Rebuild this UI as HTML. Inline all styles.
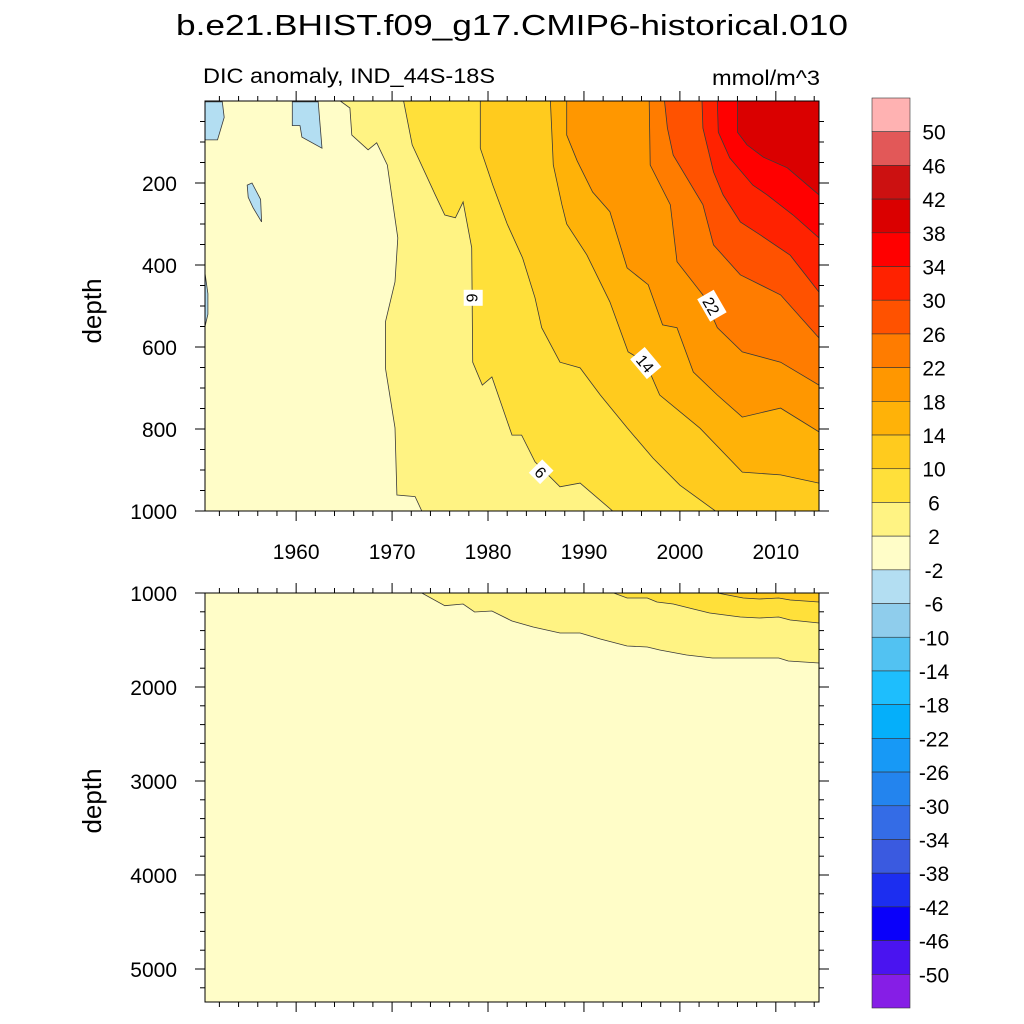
<!DOCTYPE html>
<html><head><meta charset="utf-8"><title>DIC anomaly</title>
<style>
html,body{margin:0;padding:0;background:#fff;}
svg{display:block;font-family:"Liberation Sans",Arial,sans-serif;}
</style></head>
<body>
<svg id="chart" width="1024" height="1024" viewBox="0 0 1024 1024" xmlns="http://www.w3.org/2000/svg">
<text x="512" y="35" font-size="29" text-anchor="middle" textLength="672" lengthAdjust="spacingAndGlyphs">b.e21.BHIST.f09_g17.CMIP6-historical.010</text>
<text x="203" y="83" font-size="21" textLength="292" lengthAdjust="spacingAndGlyphs">DIC anomaly, IND_44S-18S</text>
<text x="712" y="85" font-size="21" textLength="108" lengthAdjust="spacingAndGlyphs">mmol/m^3</text>
<text transform="translate(101,311) rotate(-90)" font-size="26" text-anchor="middle">depth</text>
<text transform="translate(101,801) rotate(-90)" font-size="26" text-anchor="middle">depth</text>
<g id="topPanel"></g>
<g id="botPanel"></g>
<g id="colorbar"></g>
</svg>
<script>
// ---- data ----
const levels = [2, 6, 10, 14, 18, 22, 26, 30, 34, 38];
const cbLabels = [50,46,42,38,34,30,26,22,18,14,10,6,2,-2,-6,-10,-14,-18,-22,-26,-30,-34,-38,-42,-46,-50];
const cbColors = ["#FFB2B2","#E25858","#CC1111","#DA0000","#FF0000","#FF2200","#FF5200","#FF7C00","#FF9700","#FFB208","#FFCB1E","#FFE03A","#FFF383","#FFFDC8","#B3DEF2","#8FCDEC","#52C2F2","#1EBEFD","#05AFFA","#1799F6","#2384EE","#346CE6","#3A5AE0","#1C2EF0","#0A00FA","#4A14F0","#861EE6"];
const xTickYears = [1960,1970,1980,1990,2000,2010];
const topDepthTicks = [200,400,600,800,1000];
const botDepthTicks = [1000,2000,3000,4000,5000];
// isolines (year, depth) for the upper 0-1000 m panel
const top2  = [[1964.6,0],[1965.6,17],[1965.8,83],[1967.5,119],[1968.4,102],[1969.5,156],[1970.6,334],[1970.3,441],[1969.3,539],[1969.3,651],[1970.3,797],[1970.5,961],[1972.4,965],[1973.1,1000]];
const top6  = [[1971.2,0],[1972.1,107],[1974.5,229],[1975.5,278],[1976.6,285],[1977.4,246],[1978.3,358],[1978.4,637],[1979.4,693],[1980.4,673],[1982.5,815],[1983.5,815],[1984.9,880],[1987.5,941],[1989.6,932],[1993.0,1000]];
const top10 = [[1979.2,0],[1979.2,115],[1980.5,205],[1982.0,300],[1983.6,383],[1984.9,480],[1985.6,553],[1987.5,637],[1989.6,651],[1991.7,717],[1994.5,797],[1997.2,871],[2000.0,937],[2003.7,1000]];
const top14 = [[1986.5,0],[1986.8,156],[1987.7,253],[1988.2,300],[1990.3,375],[1992.7,490],[1994.6,612],[1996.4,637],[1997.9,717],[2002.1,798],[2006.5,905],[2010.5,912],[2014.5,932]];
const top18 = [[1988.2,0],[1988.2,83],[1989.3,146],[1990.9,222],[1992.7,270],[1994.5,407],[1996.7,448],[1998.2,546],[1999.7,553],[2001.4,661],[2003.9,717],[2006.5,771],[2010.5,749],[2014.5,807]];
const top22 = [[1996.8,0],[1996.9,156],[1999.0,253],[1999.7,392],[2002.4,473],[2003.9,553],[2006.5,612],[2010.5,637],[2014.5,693]];
const top26 = [[1998.4,0],[1998.7,66],[1999.3,132],[2002.4,253],[2003.5,351],[2006.3,424],[2010.5,473],[2014.5,578]];
const top30 = [[2002.3,0],[2002.4,66],[2003.5,173],[2004.5,229],[2006.3,295],[2008.4,327],[2011.5,376],[2014.5,466]];
const top34 = [[2003.9,0],[2004.0,76],[2005.2,139],[2007.6,205],[2009.1,229],[2011.8,278],[2014.5,334]];
const top38 = [[2006.0,0],[2006.0,76],[2007.0,107],[2008.7,137],[2011.2,163],[2014.5,229]];
// small closed regions below -2
const negPatch1 = [[1950.5,2],[1952.3,2],[1952.5,40],[1951.8,95],[1950.5,95]];
const negPatch2 = [[1959.6,2],[1962.3,2],[1962.7,115],[1960.6,88],[1960.4,60],[1959.6,60]];
const negPatch3 = [[1954.9,205],[1955.4,200],[1956.3,240],[1956.4,295],[1955.5,260],[1955.0,235]];
const negPatch4 = [[1950.5,420],[1950.8,470],[1950.8,520],[1950.5,550]];
// isolines for the lower 1000-5350 m panel
const bot2  = [[1973.1,1000],[1975.5,1135],[1977.4,1117],[1978.6,1202],[1980.4,1191],[1982.5,1298],[1984.7,1362],[1987.5,1426],[1989.6,1426],[1991.7,1489],[1994.5,1564],[1996.6,1574],[1997.9,1606],[2000.7,1660],[2003.4,1691],[2007.0,1691],[2010.3,1691],[2011.3,1723],[2014.5,1745]];
const bot6  = [[1993.1,1000],[1994.5,1053],[1996.6,1053],[1997.6,1096],[1999.3,1117],[2001.4,1170],[2003.1,1213],[2006.3,1255],[2008.3,1266],[2010.3,1255],[2011.5,1287],[2014.5,1319]];
const bot10 = [[2003.9,1000],[2006.6,1053],[2008.3,1064],[2010.3,1053],[2011.5,1074],[2014.5,1096]];

const topLines = [top2, top6, top10, top14, top18, top22, top26, top30, top34, top38];
const botLines = [bot2, bot6, bot10];
const negPatches = [negPatch1, negPatch2, negPatch3, negPatch4];
// contour labels: [year, depth, text, angle]
const topLabels = [[1978.4,480,"6",90],[1985.5,905,"6",45],[1996.4,640,"14",50],[2003.3,500,"22",60]];

// ---- axes ----
const X0=205, X1=819, YR0=1950.5, YR1=2014.5;
const xs = yr => X0 + (yr-YR0)*(X1-X0)/(YR1-YR0);
const TY0=101, TY1=511, TD0=0, TD1=1000;
const ysTop = d => TY0 + (d-TD0)*(TY1-TY0)/(TD1-TD0);
const BY0=593, BY1=1002, BD0=1000, BD1=1000+(1002-593)/0.094;
const ysBot = d => BY0 + (d-BD0)*(BY1-BY0)/(BD1-BD0);
const NS="http://www.w3.org/2000/svg";
function mk(tag, attrs, parent){const e=document.createElementNS(NS,tag);for(const k in attrs)e.setAttribute(k,attrs[k]);parent.appendChild(e);return e;}
function colorForLevel(L){ const i = cbLabels.indexOf(L); return cbColors[i]; }
function ptsStr(pts, ys){return pts.map(p=>xs(p[0]).toFixed(1)+","+ys(p[1]).toFixed(1)).join(" ");}

function drawPanel(g, lines, lvls, ys, dTop, yTop, yBot, clipId){
  const defs = mk("defs",{},g);
  const cp = mk("clipPath",{id:clipId},defs);
  mk("rect",{x:X0,y:yTop,width:X1-X0,height:yBot-yTop},cp);
  const base = mk("rect",{x:X0,y:yTop,width:X1-X0,height:yBot-yTop,fill:colorForLevel(-2)},g);
  
  
  const fills = mk("g",{"clip-path":"url(#"+clipId+")"},g);
  lines.forEach((ln,i)=>{
    const last = ln[ln.length-1];
    const poly = ln.concat([[YR1+1,last[1]],[YR1+1,dTop-50],[ln[0][0],dTop-50]]);
    const p = mk("polygon",{points:ptsStr(poly,ys),fill:colorForLevel(lvls[i]),stroke:"none"},fills);
    
    
  });
  lines.forEach((ln,i)=>{
    const l = mk("polyline",{points:ptsStr(ln,ys),fill:"none",stroke:"#3a3a3a","stroke-width":"0.8"},fills);
    
    
  });
  return fills;
}
function drawFrame(g, yTop, yBot, ys, majorD, minorStep, dMin, dMax, labelX){
  const fr = mk("rect",{x:X0,y:yTop,width:X1-X0,height:yBot-yTop,fill:"none",stroke:"#000","stroke-width":"1"},g);
  
  
  const tg = mk("g",{stroke:"#000","stroke-width":"1"},g);
  for(let yr=1952; yr<=2014; yr+=2){
    const major = yr%10===0; const L = major?10:5; const x=xs(yr);
    mk("line",{x1:x,y1:yBot,x2:x,y2:yBot+L},tg);
    mk("line",{x1:x,y1:yTop,x2:x,y2:yTop-L},tg);
  }
  for(let d=Math.ceil(dMin/minorStep)*minorStep; d<=dMax; d+=minorStep){
    const major = majorD.includes(d); const L = major?10:5; const y=ys(d);
    mk("line",{x1:X0,y1:y,x2:X0-L,y2:y},tg);
    mk("line",{x1:X1,y1:y,x2:X1+L,y2:y},tg);
  }
  majorD.forEach(d=>{
    const t = mk("text",{x:177,y:ys(d)+8,"font-size":"21","text-anchor":"end"},g);
    t.textContent=d;
    
    
  });
  if(labelX){
    xTickYears.forEach(yr=>{
      const t = mk("text",{x:xs(yr),y:559,"font-size":"21","text-anchor":"middle"},g);
      t.textContent=yr;
      
      
    });
  }
}

const topG = document.getElementById("topPanel");
const topFills = drawPanel(topG, topLines, levels, ysTop, TD0, TY0, TY1, "clipTop");
negPatches.forEach((p,i)=>{
  const e = mk("polygon",{points:ptsStr(p,ysTop),fill:colorForLevel(-6),stroke:"#3a3a3a","stroke-width":"0.8"},topFills);
  
  
});
topLabels.forEach(lb=>{
  const x=xs(lb[0]), y=ysTop(lb[1]);
  const g = mk("g",{transform:"translate("+x.toFixed(1)+","+y.toFixed(1)+") rotate("+lb[3]+")"},topG);
  
  
  const w = lb[2].length*10+6;
  mk("rect",{x:-w/2,y:-10,width:w,height:19,fill:"#fff"},g);
  const t = mk("text",{x:0,y:6,"font-size":"16","text-anchor":"middle"},g);
  t.textContent = lb[2];
});
drawFrame(topG, TY0, TY1, ysTop, topDepthTicks, 50, 50, 1000, true);

const botG = document.getElementById("botPanel");
drawPanel(botG, botLines, [2,6,10], ysBot, BD0, BY0, BY1, "clipBot");
drawFrame(botG, BY0, BY1, ysBot, botDepthTicks, 200, 1000, 5351, false);

// colorbar
const cb = document.getElementById("colorbar");
const CBX=872, CBW=38, CBY0=98, CBY1=1008, n=cbColors.length, bh=(CBY1-CBY0)/n;
cbColors.forEach((c,i)=>{
  const r = mk("rect",{x:CBX,y:(CBY0+i*bh).toFixed(2),width:CBW,height:bh.toFixed(2),fill:c,stroke:"#333","stroke-width":"0.6"},cb);
  
  
});
cbLabels.forEach((v,i)=>{
  const t = mk("text",{x:934,y:(CBY0+(i+1)*bh+8).toFixed(1),"font-size":"21","text-anchor":"middle"},cb);
  t.textContent = v;
  
  
});
</script>
</body></html>
